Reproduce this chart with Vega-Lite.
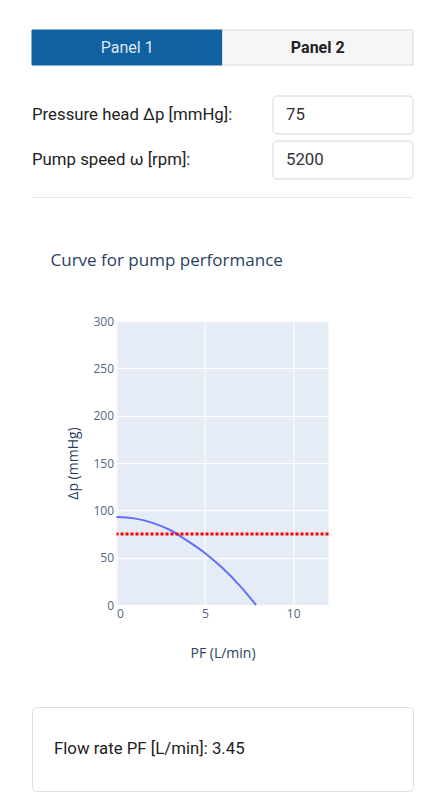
{
  "$schema": "https://vega.github.io/schema/vega-lite/v6.json",
  "padding": {"left": 31, "top": 29, "right": 12, "bottom": 0},
  "background": "white",
  "spacing": 0,
  "bounds": "flush",
  "center": true,
  "config": {"view": {"stroke": null}, "font": "Roboto"},
  "vconcat": [
    {
      "width": 381,
      "height": 35,
      "data": {"values": [{"tab": "Panel 1", "active": "yes"}, {"tab": "Panel 2", "active": "no"}]},
      "encoding": {
        "x": {"field": "tab", "type": "nominal", "sort": null, "scale": {"paddingInner": 0, "paddingOuter": 0}, "axis": null}
      },
      "layer": [
        {
          "mark": {"type": "bar", "strokeWidth": 1},
          "encoding": {
            "fill": {"condition": {"test": "datum.active === 'yes'", "value": "#10619f"}, "value": "#f6f6f6"},
            "stroke": {"condition": {"test": "datum.active === 'yes'", "value": "#10619f"}, "value": "#dcdcdc"}
          }
        },
        {
          "transform": [{"filter": "datum.active === 'yes'"}],
          "mark": {"type": "text", "fontSize": 16, "baseline": "middle", "color": "#dde7f1", "fontWeight": "normal"},
          "encoding": {"text": {"field": "tab"}}
        },
        {
          "transform": [{"filter": "datum.active === 'no'"}],
          "mark": {"type": "text", "fontSize": 16, "baseline": "middle", "color": "#222222", "fontWeight": "bold"},
          "encoding": {"text": {"field": "tab"}}
        }
      ]
    },
    {
      "width": 381,
      "height": 132,
      "data": {"values": [
        {"label": "Pressure head Δp [mmHg]:", "value": "75"},
        {"label": "Pump speed ω [rpm]:", "value": "5200"}
      ]},
      "encoding": {
        "y": {"field": "label", "type": "nominal", "sort": null, "scale": {"type": "band", "range": [31, 114], "paddingInner": 0.1556, "paddingOuter": 0}, "axis": null}
      },
      "layer": [
        {
          "mark": {"type": "text", "fontSize": 16.8, "align": "left", "baseline": "middle", "color": "#222222"},
          "encoding": {
            "x": {"datum": "label", "type": "nominal", "bandPosition": 0, "scale": {"domain": ["label", "input"], "paddingInner": 0.419, "paddingOuter": 0}, "axis": null},
            "text": {"field": "label"}
          }
        },
        {
          "mark": {"type": "bar", "fill": "white", "stroke": "#d6d6d6", "strokeWidth": 1, "cornerRadius": 4},
          "encoding": {
            "x": {"datum": "input", "type": "nominal"}
          }
        },
        {
          "mark": {"type": "text", "fontSize": 16.8, "align": "left", "baseline": "middle", "dx": 13, "color": "#333333"},
          "encoding": {
            "x": {"datum": "input", "type": "nominal", "bandPosition": 0},
            "text": {"field": "value"}
          }
        }
      ]
    },
    {
      "width": 381,
      "height": 1,
      "data": {"values": [{"item": "separator"}]},
      "mark": {"type": "bar", "fill": "#e6e6e6"},
      "encoding": {}
    },
    {
      "width": 381,
      "height": 123,
      "data": {"values": []},
      "mark": {"type": "text"},
      "encoding": {}
    },
    {
      "width": 212,
      "height": 284,
      "title": {
        "text": "Curve for pump performance",
        "anchor": "start",
        "frame": "group",
        "dx": -66,
        "offset": 45,
        "font": "Open Sans",
        "fontSize": 17,
        "fontWeight": "normal",
        "color": "#2a3f5f"
      },
      "view": {"fill": "#e5ecf6", "stroke": null},
      "layer": [
        {
          "data": {"values": [
            {"PF": 0, "dp": 93},
            {"PF": 1, "dp": 91.5},
            {"PF": 2, "dp": 87},
            {"PF": 3, "dp": 79.5},
            {"PF": 4, "dp": 68},
            {"PF": 5, "dp": 55},
            {"PF": 6, "dp": 39},
            {"PF": 7, "dp": 20},
            {"PF": 7.9, "dp": 0}
          ]},
          "mark": {"type": "line", "color": "#636efa", "strokeWidth": 2, "interpolate": "monotone"},
          "encoding": {
            "x": {
              "field": "PF", "type": "quantitative",
              "scale": {"domain": [0, 12], "nice": false, "zero": false},
              "axis": {
                "title": "PF (L/min)", "values": [0, 5, 10], "grid": true, "gridColor": "white", "gridWidth": 1,
                "domain": false, "ticks": false, "labelPadding": 3, "labelFont": "Open Sans", "labelFontSize": 12,
                "labelColor": "#506784", "titleFont": "Open Sans", "titleFontSize": 14, "titleFontWeight": "normal",
                "titleColor": "#2a3f5f", "titlePadding": 27
              }
            },
            "y": {
              "field": "dp", "type": "quantitative",
              "scale": {"domain": [0, 300], "nice": false},
              "axis": {
                "title": "Δp (mmHg)", "values": [0, 50, 100, 150, 200, 250, 300], "grid": true, "gridColor": "white", "gridWidth": 1,
                "domain": false, "ticks": false, "labelPadding": 3, "labelFont": "Open Sans", "labelFontSize": 12,
                "labelColor": "#506784", "titleFont": "Open Sans", "titleFontSize": 14, "titleFontWeight": "normal",
                "titleColor": "#2a3f5f", "titlePadding": 12
              }
            }
          }
        },
        {
          "data": {"values": [{"dp": 75}]},
          "mark": {"type": "rule", "color": "red", "strokeWidth": 3, "strokeDash": [3, 2]},
          "encoding": {
            "y": {"field": "dp", "type": "quantitative"}
          }
        }
      ]
    },
    {
      "width": 381,
      "height": 102,
      "data": {"values": []},
      "mark": {"type": "text"},
      "encoding": {}
    },
    {
      "width": 381,
      "height": 84,
      "view": {"stroke": "#e0e0e0", "cornerRadius": 4},
      "data": {"values": [{"result": "Flow rate PF [L/min]: 3.45"}]},
      "mark": {"type": "text", "fontSize": 16.8, "align": "left", "baseline": "middle", "dx": 22, "color": "#222222"},
      "encoding": {
        "x": {"field": "result", "type": "nominal", "scale": {"type": "point", "padding": 0, "align": 0}, "axis": null},
        "text": {"field": "result"}
      }
    }
  ]
}
